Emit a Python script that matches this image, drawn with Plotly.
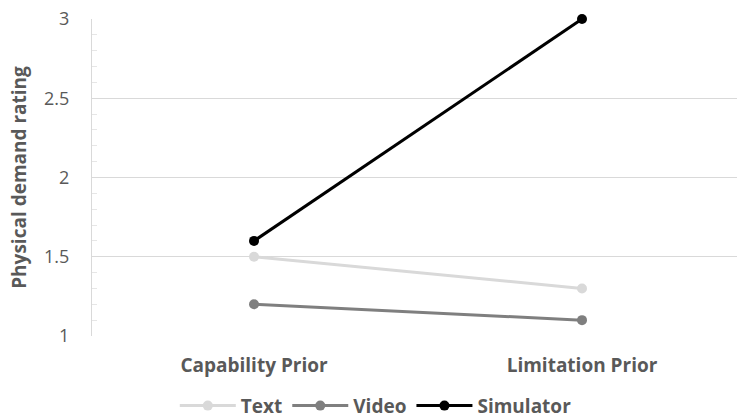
import plotly.graph_objects as go

categories = ["Capability Prior", "Limitation Prior"]
text_vals = [1.5, 1.3]
video_vals = [1.2, 1.1]
simulator_vals = [1.6, 3.0]

series = [
    ("Text", text_vals, "#d9d9d9"),
    ("Video", video_vals, "#7f7f7f"),
    ("Simulator", simulator_vals, "#000000"),
]

fig = go.Figure()
for name, vals, color in series:
    fig.add_trace(go.Scatter(
        x=[0, 1], y=vals, name=name, mode="lines+markers",
        line=dict(color=color, width=3),
        marker=dict(color=color, size=10),
        cliponaxis=False,
    ))

font_fam = "Open Sans, Noto Sans, sans-serif"
fig.update_layout(
    width=737, height=420,
    margin=dict(l=92, r=0, t=19, b=84, autoexpand=False),
    plot_bgcolor="white", paper_bgcolor="white",
    font=dict(family=font_fam, size=18, color="#595959"),
    showlegend=True,
    legend=dict(orientation="h", x=0.44, xanchor="center", y=-0.22, yanchor="middle",
                font=dict(size=19, color="#595959", weight="bold"),
                itemwidth=56, tracegroupgap=0),
)
fig.update_xaxes(
    range=[-0.494, 1.4726],
    tickmode="array", tickvals=[0, 1], ticktext=categories,
    tickfont=dict(size=19, color="#595959", weight="bold"),
    showgrid=False, zeroline=False, showline=False, ticks="",
    ticklabelstandoff=16,
)
fig.update_yaxes(
    range=[1, 3], dtick=0.5,
    showgrid=True, gridcolor="#d9d9d9", gridwidth=1,
    zeroline=False, showline=True, linecolor="#d9d9d9", linewidth=1,
    tickfont=dict(size=18, color="#595959"),
    ticks="", ticklabelstandoff=18,
    minor=dict(dtick=0.1, ticks="inside", ticklen=5, tickcolor="#e6e6e6", showgrid=False),
    title=dict(text="Physical demand rating", standoff=12,
               font=dict(size=19, color="#595959", weight="bold")),
)

fig.write_html("out.html")
